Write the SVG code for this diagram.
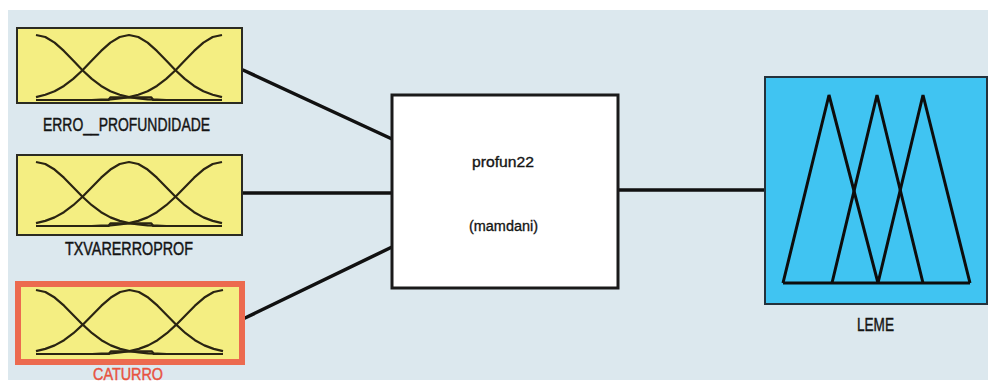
<svg xmlns="http://www.w3.org/2000/svg" xmlns:xlink="http://www.w3.org/1999/xlink" width="988" height="385" viewBox="0 0 988 385">
  <style>
    .bg { fill: #dce8ee; }
    .in { fill: #f4ee82; stroke: #2b2b22; stroke-width: 2; }
    .in-sel { fill: #f4ee82; stroke: #ec6a4f; stroke-width: 6; }
    .mf { fill: none; stroke: #2a2412; stroke-width: 2.2; vector-effect: non-scaling-stroke; stroke-linejoin: round; }
    .sys { fill: #ffffff; stroke: #1a1a1a; stroke-width: 3; }
    .out { fill: #40c4f2; stroke: #24323c; stroke-width: 2; }
    .tri { fill: none; stroke: #0d0d0d; stroke-width: 3; stroke-linejoin: miter; }
    .wire { stroke: #111111; stroke-width: 3.5; stroke-linecap: round; fill: none; }
    .lbl { font-family: "Liberation Sans", Arial, sans-serif; font-size: 19px; fill: #141414; stroke: #141414; stroke-width: 0.45; }
    .lbl-sel { fill: #e8523f; stroke: #e8523f; font-size: 17px; }
    .sys-txt { font-family: "Liberation Sans", Arial, sans-serif; font-size: 15.5px; fill: #141414; stroke: #141414; stroke-width: 0.35; }
  </style>
  <defs>
    <!-- three gaussian membership functions in a 100 x 100 unit box (y=0 peak, y=100 base) -->
    <g id="gauss3">
      <polyline class="mf" points="0,0 5,3.1 10,11.8 15,24.5 20,39.3 25,54.2 30,67.5 35,78.4 40,86.5 45,92 50,95.6 55,97.7 60,98.9 65,99.5 70,100"/>
      <polyline class="mf" points="0,95.6 5,92 10,86.5 15,78.4 20,67.5 25,54.2 30,39.3 35,24.5 40,11.8 45,3.1 50,0 55,3.1 60,11.8 65,24.5 70,39.3 75,54.2 80,67.5 85,78.4 90,86.5 95,92 100,95.6"/>
      <polyline class="mf" points="100,0 95,3.1 90,11.8 85,24.5 80,39.3 75,54.2 70,67.5 65,78.4 60,86.5 55,92 50,95.6 45,97.7 40,98.9 35,99.5 30,100"/>
      <path class="mf" d="M0,100 H39 L40,96 H62 L63,100 H100"/>
    </g>
  </defs>

  <!-- canvas -->
  <rect x="0" y="0" width="988" height="385" fill="#ffffff"/>
  <rect class="bg" x="8" y="10" width="980" height="370"/>

  <!-- connectors -->
  <g id="connectors">
    <line class="wire" x1="243" y1="70" x2="392" y2="139"/>
    <line class="wire" x1="242" y1="193" x2="392" y2="193"/>
    <line class="wire" x1="245" y1="318" x2="392" y2="247"/>
    <line class="wire" x1="618" y1="190" x2="765" y2="190"/>
  </g>

  <!-- input: ERRO__PROFUNDIDADE -->
  <g id="in-erro">
    <rect class="in" x="17" y="28" width="225" height="75"/>
    <use xlink:href="#gauss3" transform="translate(36,35) scale(1.86,0.65)"/>
    <text class="lbl" x="43" y="131" textLength="167" lengthAdjust="spacingAndGlyphs">ERRO__PROFUNDIDADE</text>
  </g>

  <!-- input: TXVARERROPROF -->
  <g id="in-txvar">
    <rect class="in" x="17" y="155" width="225" height="80"/>
    <use xlink:href="#gauss3" transform="translate(36,162) scale(1.86,0.64)"/>
    <text class="lbl" x="65" y="255" textLength="128" lengthAdjust="spacingAndGlyphs">TXVARERROPROF</text>
  </g>

  <!-- input: CATURRO (selected) -->
  <g id="in-caturro">
    <rect class="in-sel" x="18" y="284" width="224" height="78"/>
    <use xlink:href="#gauss3" transform="translate(36,290) scale(1.87,0.64)"/>
    <text class="lbl lbl-sel" x="93" y="380" textLength="70" lengthAdjust="spacingAndGlyphs">CATURRO</text>
  </g>

  <!-- inference system -->
  <g id="system">
    <rect class="sys" x="392" y="95" width="226" height="193"/>
    <text class="sys-txt" x="472" y="167" textLength="62" lengthAdjust="spacingAndGlyphs">profun22</text>
    <text class="sys-txt" x="469" y="231" textLength="69" lengthAdjust="spacingAndGlyphs">(mamdani)</text>
  </g>

  <!-- output: LEME -->
  <g id="out-leme">
    <rect class="out" x="765" y="77" width="222" height="227"/>
    <polyline class="tri" points="783,283 829,95 878,283"/>
    <polyline class="tri" points="832,283 877,95 923,283"/>
    <polyline class="tri" points="878,283 923,95 970,283"/>
    <line class="tri" x1="783" y1="283" x2="970" y2="283"/>
    <text class="lbl" x="857" y="331" textLength="37" lengthAdjust="spacingAndGlyphs">LEME</text>
  </g>
</svg>
